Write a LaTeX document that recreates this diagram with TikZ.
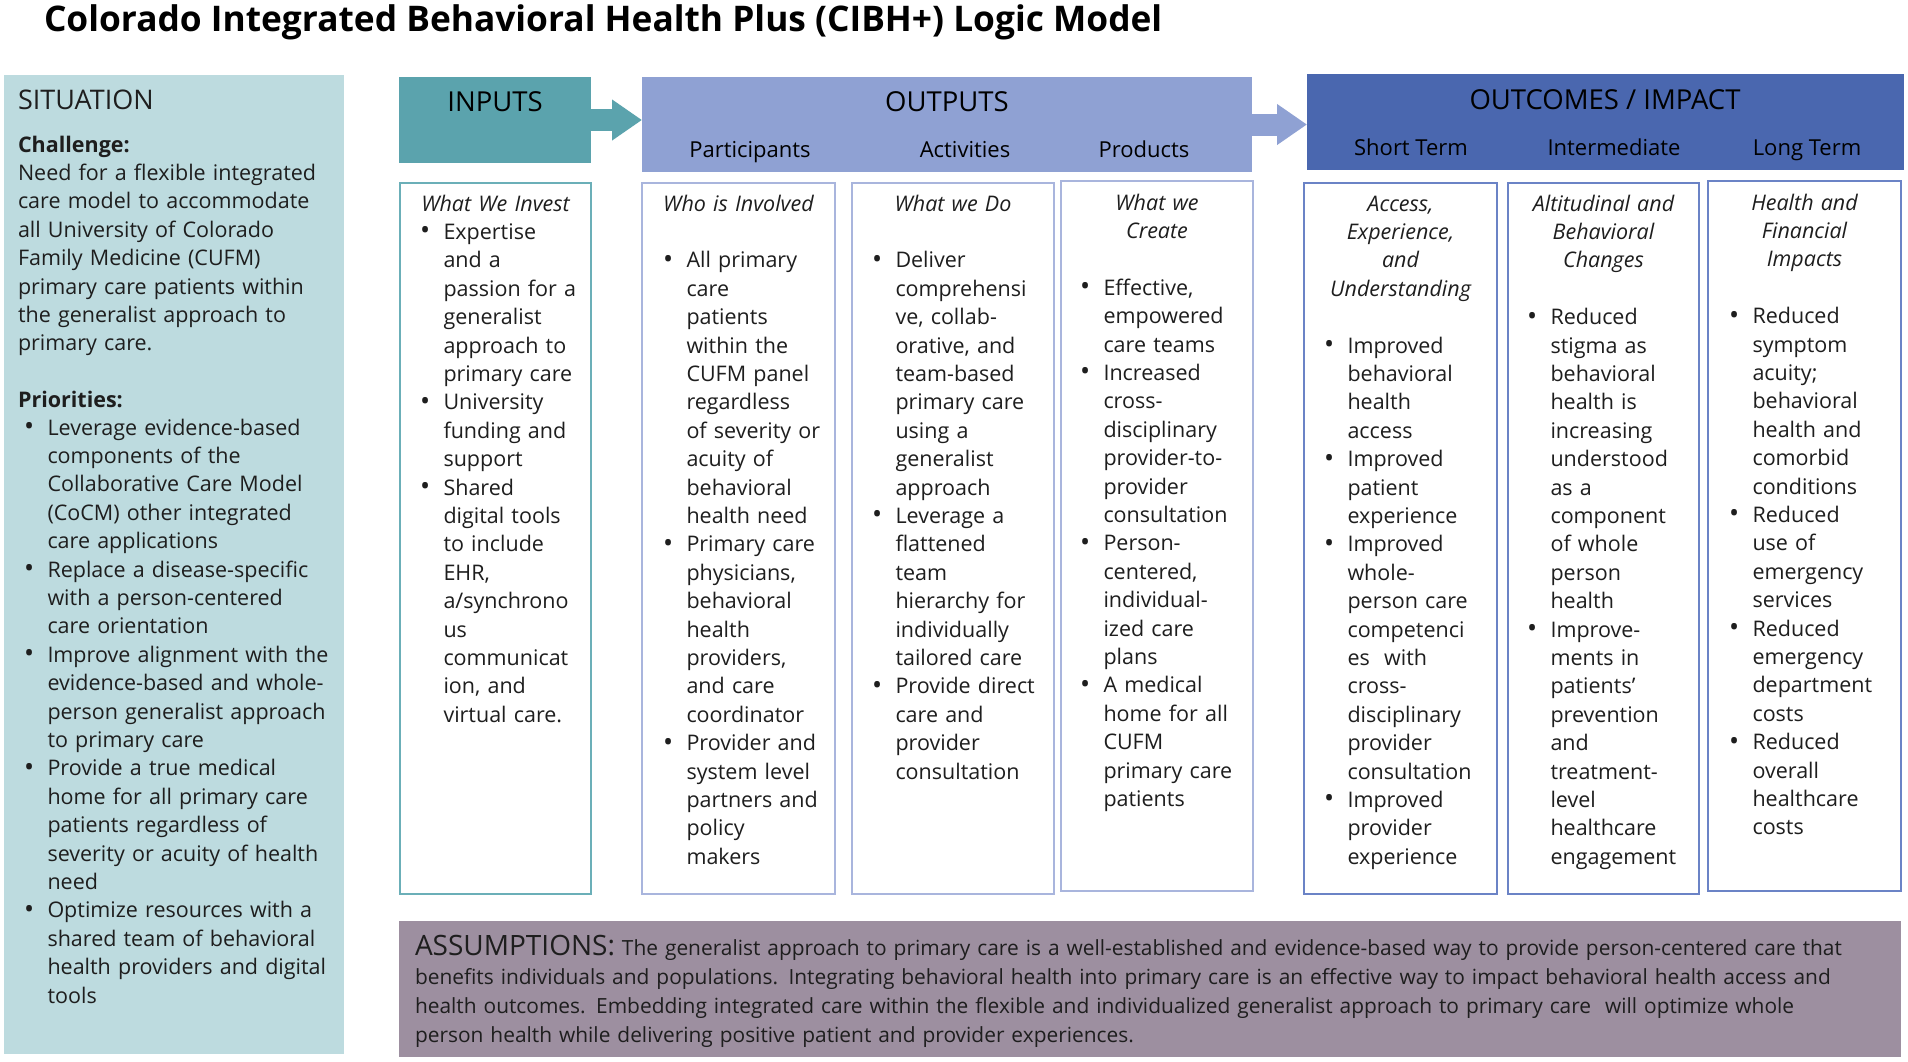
\documentclass[tikz,border=0pt]{standalone}
\usepackage{fontspec}
\setmainfont{Open Sans}
\usetikzlibrary{arrows.meta}
\definecolor{sitbg}{HTML}{BDDBDF}
\definecolor{inhd}{HTML}{5BA3AD}
\definecolor{inbd}{HTML}{6BAFB8}
\definecolor{outhd}{HTML}{8FA1D3}
\definecolor{outbd}{HTML}{A9B5DD}
\definecolor{ochd}{HTML}{4A67AF}
\definecolor{ocbd}{HTML}{6B83C6}
\definecolor{asbg}{HTML}{9D8FA0}
\definecolor{txt}{HTML}{1E1E1E}
\newcommand\bl{\makebox[23.5pt][l]{\raisebox{-0.5pt}{\scalebox{1.25}{\textbullet}}}}
\newcommand\cl{\makebox[23.5pt]{}}
\tikzset{
  every node/.style={inner sep=0pt, outer sep=0pt, text=txt},
  panel/.style={anchor=north west, fill=#1, draw=none},
  colbox/.style={anchor=north west, draw=#1, line width=2pt, fill=white},
  bodytxt/.style={font=\fontsize{21.5}{28.4}\selectfont, anchor=base west, align=left, text width=#1},
  bodytxt/.default=260pt,
  colhead/.style={font=\fontsize{21.5}{28.4}\selectfont\itshape, anchor=base, align=center, text width=#1},
  colhead/.default=190pt,
  hdtitle/.style={font=\fontsize{27.5}{30}\selectfont, anchor=base, text=black},
  subhd/.style={font=\fontsize{22}{26}\selectfont, anchor=base, text=black},
  bigarrow/.style={line width=22pt, draw=#1, -{Triangle[length=30pt,width=39pt]}},
}
\begin{document}
\begin{tikzpicture}[x=1pt,y=-1pt]
\useasboundingbox (0,0) rectangle (1908,1061);
\fill[white] (0,0) rectangle (1908,1061);

% title
\node[anchor=base west, font=\fontsize{35.3}{38}\selectfont\bfseries, text=black] (title) at (44,31)
  {Colorado Integrated Behavioral Health Plus (CIBH+) Logic Model};

% situation panel
\node[panel=sitbg, minimum width=340pt, minimum height=979pt] (sit) at (4,75) {};
\node[anchor=base west, font=\fontsize{27}{30}\selectfont] (sittitle) at (18,109) {SITUATION};
\node[bodytxt=320pt] (sittext) at (18,152) {\textbf{Challenge:}\\
Need for a flexible integrated\\
care model to accommodate\\
all University of Colorado\\
Family Medicine (CUFM)\\
primary care patients within\\
the generalist approach to\\
primary care.\\
\mbox{}\\
\textbf{Priorities:}};
\node[bodytxt=320pt] (sitbul) at (24,435) {\bl Leverage evidence-based\\
\cl components of the\\
\cl Collaborative Care Model\\
\cl (CoCM) other integrated\\
\cl care applications\\
\bl Replace a disease-specific\\
\cl with a person-centered\\
\cl care orientation\\
\bl Improve alignment with the\\
\cl evidence-based and whole-\\
\cl person generalist approach\\
\cl to primary care\\
\bl Provide a true medical\\
\cl home for all primary care\\
\cl patients regardless of\\
\cl severity or acuity of health\\
\cl need\\
\bl Optimize resources with a\\
\cl shared team of behavioral\\
\cl health providers and digital\\
\cl tools};

% header panels
\node[panel=inhd, minimum width=192pt, minimum height=86pt] (inh) at (399,77) {};
\node[panel=outhd, minimum width=610pt, minimum height=95pt] (outh) at (642,77) {};
\node[panel=ochd, minimum width=597pt, minimum height=96pt] (outch) at (1307,74) {};
\draw[bigarrow=inhd] (inh.east) -- (inh.east -| outh.west);
\draw[bigarrow=outhd] (outh.east) -- (outh.east -| outch.west);

\node[hdtitle] (tin) at (495,111) {INPUTS};
\node[hdtitle] (tout) at (947,111) {OUTPUTS};
\node[hdtitle] (toc) at (1605,109.6) {OUTCOMES / IMPACT};
\node[subhd] (sp) at (750,157) {Participants};
\node[subhd] (sa) at (965,157) {Activities};
\node[subhd] (spr) at (1144,157) {Products};
\node[subhd] (sst) at (1411,155.5) {Short Term};
\node[subhd] (sit2) at (1614,155.5) {Intermediate};
\node[subhd] (slt) at (1807,155.5) {Long Term};

% column boxes
\node[colbox=inbd, minimum width=191pt, minimum height=711pt] (cin) at (400,183) {};
\node[colbox=outbd, minimum width=193pt, minimum height=711pt] (cpa) at (642,183) {};
\node[colbox=outbd, minimum width=202pt, minimum height=711pt] (cac) at (852,183) {};
\node[colbox=outbd, minimum width=192pt, minimum height=710pt] (cpr) at (1061,181) {};
\node[colbox=ocbd, minimum width=193pt, minimum height=711pt] (cst) at (1304,183) {};
\node[colbox=ocbd, minimum width=191pt, minimum height=711pt] (cim) at (1508,183) {};
\node[colbox=ocbd, minimum width=193pt, minimum height=710pt] (clt) at (1708,181) {};

% inputs
\node[colhead] (hin) at (495.5,211) {What We Invest};
\node[bodytxt] (bin) at (420,239.4) {\bl Expertise\\
\cl and a\\
\cl passion for a\\
\cl generalist\\
\cl approach to\\
\cl primary care\\
\bl University\\
\cl funding and\\
\cl support\\
\bl Shared\\
\cl digital tools\\
\cl to include\\
\cl EHR,\\
\cl a/synchrono\\
\cl us\\
\cl communicat\\
\cl ion, and\\
\cl virtual care.};

% participants
\node[colhead] (hpa) at (738.5,211) {Who is Involved};
\node[bodytxt] (bpa) at (663,267.8) {\bl All primary\\
\cl care\\
\cl patients\\
\cl within the\\
\cl CUFM panel\\
\cl regardless\\
\cl of severity or\\
\cl acuity of\\
\cl behavioral\\
\cl health need\\
\bl Primary care\\
\cl physicians,\\
\cl behavioral\\
\cl health\\
\cl providers,\\
\cl and care\\
\cl coordinator\\
\bl Provider and\\
\cl system level\\
\cl partners and\\
\cl policy\\
\cl makers};

% activities
\node[colhead] (hac) at (953,211) {What we Do};
\node[bodytxt] (bac) at (872,267.8) {\bl Deliver\\
\cl comprehensi\\
\cl ve, collab-\\
\cl orative, and\\
\cl team-based\\
\cl primary care\\
\cl using a\\
\cl generalist\\
\cl approach\\
\bl Leverage a\\
\cl flattened\\
\cl team\\
\cl hierarchy for\\
\cl individually\\
\cl tailored care\\
\bl Provide direct\\
\cl care and\\
\cl provider\\
\cl consultation};

% products
\node[colhead] (hpr) at (1157,210) {What we\\Create};
\node[bodytxt] (bpr) at (1080,295.2) {\bl Effective,\\
\cl empowered\\
\cl care teams\\
\bl Increased\\
\cl cross-\\
\cl disciplinary\\
\cl provider-to-\\
\cl provider\\
\cl consultation\\
\bl Person-\\
\cl centered,\\
\cl individual-\\
\cl ized care\\
\cl plans\\
\bl A medical\\
\cl home for all\\
\cl CUFM\\
\cl primary care\\
\cl patients};

% short term
\node[colhead] (hst) at (1400.5,211) {Access,\\Experience,\\and\\Understanding};
\node[bodytxt] (bst) at (1324,353) {\bl Improved\\
\cl behavioral\\
\cl health\\
\cl access\\
\bl Improved\\
\cl patient\\
\cl experience\\
\bl Improved\\
\cl whole-\\
\cl person care\\
\cl competenci\\
\cl es\ \ with\\
\cl cross-\\
\cl disciplinary\\
\cl provider\\
\cl consultation\\
\bl Improved\\
\cl provider\\
\cl experience};

% intermediate
\node[colhead] (him) at (1603.5,211) {Altitudinal and\\Behavioral\\Changes};
\node[bodytxt] (bim) at (1527,324.6) {\bl Reduced\\
\cl stigma as\\
\cl behavioral\\
\cl health is\\
\cl increasing\\
\cl understood\\
\cl as a\\
\cl component\\
\cl of whole\\
\cl person\\
\cl health\\
\bl Improve-\\
\cl ments in\\
\cl patients’\\
\cl prevention\\
\cl and\\
\cl treatment-\\
\cl level\\
\cl healthcare\\
\cl engagement};

% long term
\node[colhead] (hlt) at (1804.5,210) {Health and\\Financial\\Impacts};
\node[bodytxt] (blt) at (1729,323.6) {\bl Reduced\\
\cl symptom\\
\cl acuity;\\
\cl behavioral\\
\cl health and\\
\cl comorbid\\
\cl conditions\\
\bl Reduced\\
\cl use of\\
\cl emergency\\
\cl services\\
\bl Reduced\\
\cl emergency\\
\cl department\\
\cl costs\\
\bl Reduced\\
\cl overall\\
\cl healthcare\\
\cl costs};

% assumptions
\node[panel=asbg, minimum width=1502pt, minimum height=136pt] (asp) at (399,921) {};
\node[anchor=base west, align=left, text width=1480pt, font=\fontsize{20.9}{29.2}\selectfont] (astext) at (415,955)
{{\fontsize{28}{29.2}\selectfont ASSUMPTIONS:} The generalist approach to primary care is a well-established and evidence-based way to provide person-centered care that\\
benefits individuals and populations. Integrating behavioral health into primary care is an effective way to impact behavioral health access and\\
health outcomes. Embedding integrated care within the flexible and individualized generalist approach to primary care\ \ will optimize whole\\
person health while delivering positive patient and provider experiences.};
\end{tikzpicture}
\end{document}
